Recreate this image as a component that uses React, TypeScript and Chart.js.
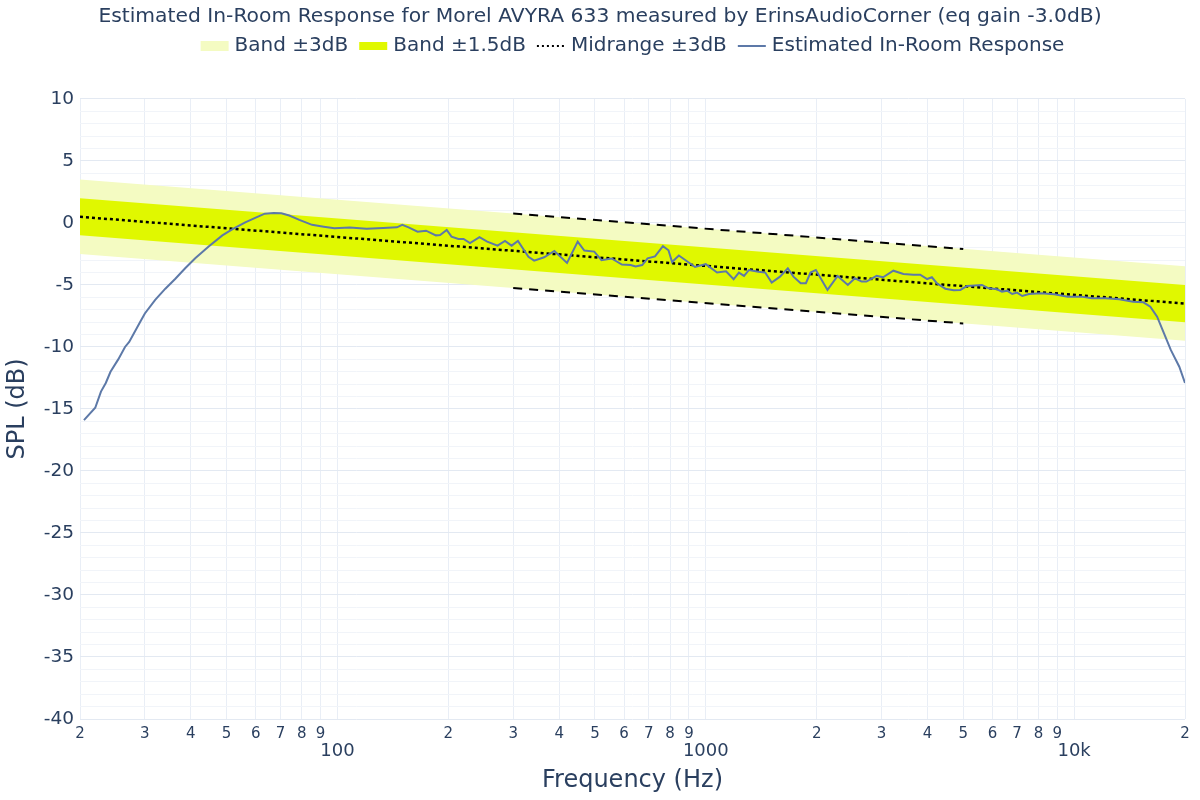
import React, { useEffect, useRef } from "react";
import { Chart, registerables } from "chart.js";

Chart.register(...registerables);

const TITLE =
  "Estimated In-Room Response for Morel AVYRA 633 measured by ErinsAudioCorner (eq gain -3.0dB)";
const X_TITLE = "Frequency (Hz)";
const Y_TITLE = "SPL (dB)";

const legendLabels = ["Band ±3dB", "Band ±1.5dB", "Midrange ±3dB", "Estimated In-Room Response"];

const freqHz = [
  20.5, 22.0, 22.8, 23.5, 24.2, 25.4, 26.5, 27.2, 29.1, 30.0,
  32.0, 34.1, 36.3, 38.6, 41.1, 44.7, 48.7, 51.9, 56.2, 60.2,
  63.5, 67.1, 70.4, 74.0, 78.8, 85.3, 91.8, 98.1, 108, 120,
  133, 145, 150, 156, 165, 174, 185, 190, 198, 204,
  213, 220, 229, 243, 255, 272, 285, 297, 309, 330,
  342, 364, 388, 420, 449, 468, 498, 521, 555, 592,
  625, 645, 672, 695, 728, 765, 792, 810, 845, 897,
  935, 1000, 1073, 1135, 1190, 1230, 1270, 1310, 1390, 1450,
  1510, 1590, 1670, 1730, 1810, 1870, 1925, 1990, 2140, 2280,
  2430, 2540, 2650, 2730, 2910, 3030, 3230, 3440, 3660, 3820,
  3990, 4110, 4240, 4470, 4710, 4910, 5120, 5620, 5860, 6180,
  6370, 6580, 6790, 7000, 7230, 7540, 8120, 8830, 9610, 10470,
  11170, 12170, 13270, 14460, 15420, 16100, 16800, 17540, 18300, 19300,
  20000,
];

const splDb = [
  -15.9, -14.9, -13.6, -12.9, -12.0, -11.0, -10.0, -9.6, -8.0, -7.3,
  -6.2, -5.3, -4.5, -3.65, -2.85, -1.9, -1.0, -0.5, 0.05, 0.45,
  0.75, 0.8, 0.78, 0.6, 0.25, -0.15, -0.3, -0.42, -0.36, -0.46,
  -0.4, -0.35, -0.15, -0.35, -0.7, -0.62, -1.0, -0.97, -0.56, -1.1,
  -1.29, -1.29, -1.62, -1.15, -1.5, -1.83, -1.45, -1.83, -1.45, -2.72,
  -3.04, -2.77, -2.26, -3.22, -1.5, -2.22, -2.31, -3.0, -2.86, -3.35,
  -3.39, -3.5, -3.39, -2.85, -2.7, -1.87, -2.2, -3.15, -2.62, -3.17,
  -3.55, -3.32, -4.0, -3.9, -4.54, -4.0, -4.27, -3.79, -3.93, -4.0,
  -4.81, -4.33, -3.65, -4.33, -4.86, -4.86, -4.0, -3.79, -5.4, -4.27,
  -5.0, -4.46, -4.73, -4.73, -4.27, -4.38, -3.85, -4.11, -4.17, -4.17,
  -4.52, -4.38, -4.86, -5.3, -5.43, -5.4, -5.08, -5.0, -5.27, -5.35,
  -5.54, -5.46, -5.73, -5.62, -5.89, -5.73, -5.67, -5.75, -5.94, -5.94,
  -6.07, -6.07, -6.15, -6.35, -6.4, -6.75, -7.56, -8.9, -10.24, -11.59,
  -12.9,
];

const bandFreqHz = [20, 20000];
const band3Upper = [3.5, -3.5];
const band3Lower = [-2.5, -9.5];
const band15Upper = [2.0, -5.0];
const band15Lower = [-1.0, -8.0];
const midrangeLine = [0.5, -6.5];

const midrangeFreqHz = [300, 5000];
const midrangeUpper = [0.76, -2.1];
const midrangeLower = [-5.24, -8.1];

const xTickValues = [
  20, 30, 40, 50, 60, 70, 80, 90,
  100, 200, 300, 400, 500, 600, 700, 800, 900,
  1000, 2000, 3000, 4000, 5000, 6000, 7000, 8000, 9000,
  10000, 20000,
];
const xDecadeLabels: Record<number, string> = { 100: "100", 1000: "1000", 10000: "10k" };

const Y_MIN = -40;
const Y_MAX = 10;
const X_MIN = 20;
const X_MAX = 20000;

const FONT = '"DejaVu Sans", Verdana, sans-serif';
const TEXT_COLOR = "#2a3f5f";
const CURVE_COLOR = "#5d79a8";
const BAND_LIGHT = "#f4fbc2";
const BAND_DARK = "#e0f800";

const pts = (xs: number[], ys: number[]) => xs.map((x, i) => ({ x, y: ys[i] }));

const legendPlugin = {
  id: "plotlyLegend",
  afterDraw(chart: any) {
    const ctx = chart.ctx as CanvasRenderingContext2D;
    const fontSize = 20;
    const symW = 28;
    const gapText = 6;
    const gapItem = 11;
    ctx.save();
    ctx.font = `${fontSize}px ${FONT}`;
    const widths = legendLabels.map((t) => ctx.measureText(t).width);
    const total =
      widths.reduce((a, w) => a + symW + gapText + w, 0) + gapItem * (legendLabels.length - 1);
    const ca = chart.chartArea;
    let x = (ca.left + ca.right) / 2 - total / 2;
    const y = 46;
    legendLabels.forEach((label, i) => {
      if (i === 0) {
        ctx.fillStyle = BAND_LIGHT;
        ctx.fillRect(x, y - 5, symW, 10);
      } else if (i === 1) {
        ctx.fillStyle = BAND_DARK;
        ctx.fillRect(x, y - 4, symW, 8);
      } else {
        ctx.beginPath();
        ctx.lineWidth = 2;
        ctx.strokeStyle = i === 2 ? "#000000" : CURVE_COLOR;
        ctx.setLineDash(i === 2 ? [2, 3] : []);
        ctx.moveTo(x, y);
        ctx.lineTo(x + symW, y);
        ctx.stroke();
        ctx.setLineDash([]);
      }
      ctx.fillStyle = TEXT_COLOR;
      ctx.textBaseline = "middle";
      ctx.textAlign = "left";
      ctx.fillText(label, x + symW + gapText, y);
      x += symW + gapText + widths[i] + gapItem;
    });
    ctx.restore();
  },
};

export default function App() {
  const canvasRef = useRef<HTMLCanvasElement | null>(null);

  useEffect(() => {
    document.body.style.margin = "0";
    const canvas = canvasRef.current;
    if (!canvas) return;
    const chart = new Chart(canvas, {
      type: "line",
      data: {
        datasets: [
          {
            label: legendLabels[0],
            data: pts(bandFreqHz, band3Upper),
            borderWidth: 0,
            pointRadius: 0,
            backgroundColor: BAND_LIGHT,
            fill: "+1",
            order: 10,
          },
          {
            label: "band3-lower",
            data: pts(bandFreqHz, band3Lower),
            borderWidth: 0,
            pointRadius: 0,
            fill: false,
            order: 10,
          },
          {
            label: legendLabels[1],
            data: pts(bandFreqHz, band15Upper),
            borderWidth: 0,
            pointRadius: 0,
            backgroundColor: BAND_DARK,
            fill: "+1",
            order: 8,
          },
          {
            label: "band15-lower",
            data: pts(bandFreqHz, band15Lower),
            borderWidth: 0,
            pointRadius: 0,
            fill: false,
            order: 8,
          },
          {
            label: "midrange-upper",
            data: pts(midrangeFreqHz, midrangeUpper),
            borderColor: "#000000",
            borderWidth: 2,
            borderDash: [9, 7],
            pointRadius: 0,
            fill: false,
            order: 5,
          },
          {
            label: "midrange-lower",
            data: pts(midrangeFreqHz, midrangeLower),
            borderColor: "#000000",
            borderWidth: 2,
            borderDash: [9, 7],
            pointRadius: 0,
            fill: false,
            order: 5,
          },
          {
            label: legendLabels[2],
            data: pts(bandFreqHz, midrangeLine),
            borderColor: "#000000",
            borderWidth: 2.5,
            borderDash: [3, 3],
            pointRadius: 0,
            fill: false,
            order: 3,
          },
          {
            label: legendLabels[3],
            data: pts(freqHz, splDb),
            borderColor: CURVE_COLOR,
            borderWidth: 2,
            pointRadius: 0,
            tension: 0,
            fill: false,
            order: 1,
          },
        ],
      },
      options: {
        animation: false,
        responsive: false,
        devicePixelRatio: 1,
        layout: { padding: { left: 0, right: 0, top: 0, bottom: 0 } },
        plugins: {
          legend: { display: false },
          tooltip: { enabled: false },
          title: {
            display: true,
            text: TITLE,
            color: TEXT_COLOR,
            font: { family: FONT, size: 20.3, weight: "normal" },
            padding: { top: 5, bottom: 69.6 },
          },
        },
        scales: {
          x: {
            type: "logarithmic",
            min: X_MIN,
            max: X_MAX,
            afterBuildTicks: (scale: any) => {
              scale.ticks = xTickValues.map((v) => ({ value: v }));
            },
            afterFit: (scale: any) => {
              scale.height = 81;
            },
            border: { display: false },
            grid: {
              color: "#e9eef6",
              lineWidth: 1,
              drawTicks: false,
              tickLength: 0,
            },
            ticks: {
              autoSkip: false,
              maxRotation: 0,
              minRotation: 0,
              padding: 6,
              color: TEXT_COLOR,
              font: (ctx: any) => {
                const v = ctx.tick ? ctx.tick.value : 0;
                return xDecadeLabels[v]
                  ? { family: FONT, size: 18, lineHeight: 0.96 }
                  : { family: FONT, size: 15, lineHeight: 1.15 };
              },
              callback: (value: any) => {
                const v = Number(value);
                if (xDecadeLabels[v]) return ["", xDecadeLabels[v]];
                return String(v).charAt(0);
              },
            },
            title: {
              display: true,
              text: X_TITLE,
              color: TEXT_COLOR,
              font: { family: FONT, size: 24 },
              padding: { top: 0, bottom: 5 },
            },
          },
          y: {
            type: "linear",
            min: Y_MIN,
            max: Y_MAX,
            afterBuildTicks: (scale: any) => {
              const t = [];
              for (let v = Y_MIN; v <= Y_MAX; v += 1) t.push({ value: v });
              scale.ticks = t;
            },
            afterFit: (scale: any) => {
              scale.width = 80;
            },
            border: { display: false },
            grid: {
              color: (ctx: any) =>
                ctx.tick && ctx.tick.value % 5 === 0 ? "#e3e9f2" : "#f1f4f9",
              lineWidth: 1,
              drawTicks: false,
              tickLength: 0,
            },
            ticks: {
              autoSkip: false,
              padding: 6,
              color: TEXT_COLOR,
              font: { family: FONT, size: 18.5 },
              callback: (value: any) => {
                const v = Number(value);
                if (v % 5 !== 0) return "";
                return String(v);
              },
            },
            title: {
              display: true,
              text: Y_TITLE,
              color: TEXT_COLOR,
              font: { family: FONT, size: 24 },
              padding: { top: 3, bottom: 0 },
            },
          },
          rightGap: {
            type: "linear",
            position: "right",
            display: true,
            grid: { display: false, drawTicks: false },
            border: { display: false },
            ticks: { display: false },
            afterFit: (scale: any) => {
              scale.width = 15;
            },
          },
        },
      },
      plugins: [legendPlugin],
    } as any);
    return () => chart.destroy();
  }, []);

  return (
    <div style={{ position: "absolute", left: 0, top: 0, width: 1200, height: 800, background: "#fff" }}>
      <canvas ref={canvasRef} width={1200} height={800} />
    </div>
  );
}
